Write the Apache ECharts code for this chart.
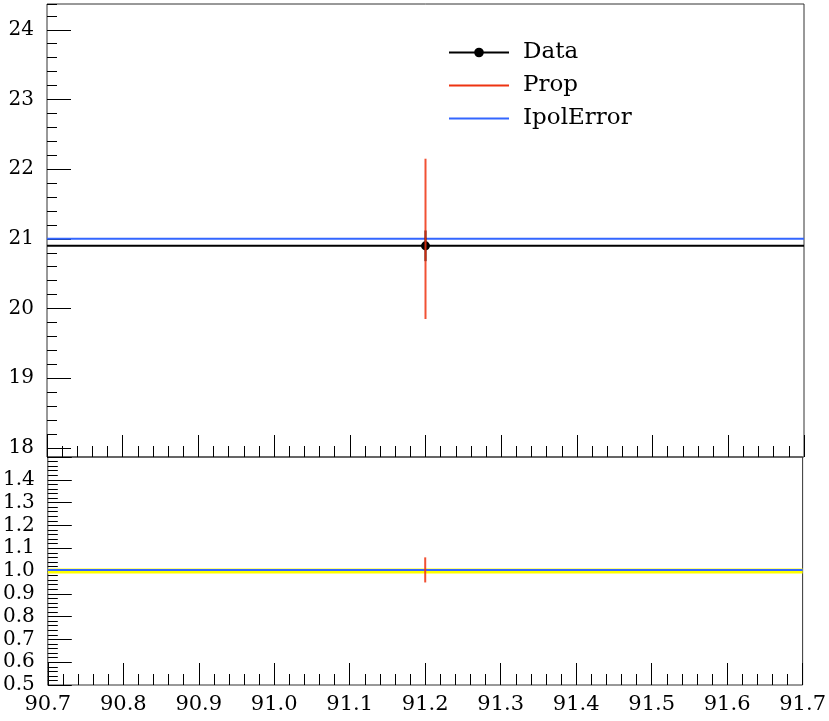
<!DOCTYPE html>
<html><head><meta charset="utf-8">
<script src="https://cdn.jsdelivr.net/npm/echarts@6/dist/echarts.min.js"></script>
<style>html,body{margin:0;padding:0;background:#fff}#c{width:829px;height:721px}</style>
</head><body><div id="c"></div>
<script>
// ---- data ----
const binEdges = [90.7, 91.7];
const binCenters = [91.2];
const dataValues = [20.9];
const dataErrors = [0.22];
const propValues = [21.0];
const propErrors = [1.15];
const ipolValues = [21.0];
const seriesNames = ['Data', 'Prop', 'IpolError'];
const xRange = [90.7, 91.7];
const yRangeTop = [17.87, 24.37];
const yRangeRatio = [0.5, 1.5];

const FONT = 'DejaVu Serif';
const RED = '#EE3311', BLUE = '#3366FF', YELLOW = '#FFFF00';

const i = 0;
const x0 = binEdges[0], x1 = binEdges[1], xc = binCenters[i];
const dv = dataValues[i], de = dataErrors[i];
const pv = propValues[i], pe = propErrors[i];
const iv = ipolValues[i];

const chart = echarts.init(document.getElementById('c'), null, {renderer: 'canvas'});

const xAxisCommon = {
  type: 'value', min: xRange[0], max: xRange[1], interval: 0.1,
  axisLine: {show: false},
  splitLine: {show: false},
  minorTick: {show: true, splitNumber: 5, length: 11, lineStyle: {color: '#000', width: 1}},
  axisTick: {show: true, inside: true, length: 22, lineStyle: {color: '#000', width: 1}},
};
const LINE_ICON = 'path://M0,0H60V2H0Z';

const option = {
  animation: false,
  backgroundColor: '#fff',
  textStyle: {fontFamily: FONT},
  grid: [
    {left: 47, right: 25, top: 4, height: 453, show: true, borderColor: '#333', borderWidth: 1, backgroundColor: 'transparent'},
    {left: 47, right: 25, top: 457, height: 228, show: true, borderColor: '#333', borderWidth: 1, backgroundColor: 'transparent'}
  ],
  legend: {
    orient: 'vertical', left: 443, top: 36,
    itemWidth: 60, itemHeight: 12, itemGap: 10,
    data: [
      {name: seriesNames[0]},
      {name: seriesNames[1], icon: LINE_ICON},
      {name: seriesNames[2], icon: LINE_ICON}
    ],
    textStyle: {fontFamily: FONT, fontSize: 23, color: '#000', padding: [0, 0, 0, 9]},
    selectedMode: false
  },
  xAxis: [
    Object.assign({}, xAxisCommon, {gridIndex: 0, axisLabel: {show: false}}),
    Object.assign({}, xAxisCommon, {gridIndex: 1,
      axisLabel: {show: true, margin: 9, fontFamily: FONT, fontSize: 21, color: '#000',
        formatter: v => v.toFixed(1), showMinLabel: true, showMaxLabel: true}})
  ],
  yAxis: [
    {type: 'value', gridIndex: 0, position: 'left', min: yRangeTop[0], max: yRangeTop[1], splitNumber: 6,
      axisLine: {show: false}, splitLine: {show: false},
      axisTick: {show: true, inside: true, length: 24, lineStyle: {color: '#000'}},
      minorTick: {show: false},
      axisLabel: {margin: 13, fontFamily: FONT, fontSize: 20, color: '#000',
        showMinLabel: false, showMaxLabel: false, formatter: v => String(Math.round(v))}},
    {type: 'value', gridIndex: 1, position: 'left', min: yRangeRatio[0], max: yRangeRatio[1], interval: 0.1,
      axisLine: {show: false}, splitLine: {show: false},
      axisTick: {show: true, inside: true, length: 24, lineStyle: {color: '#000'}},
      minorTick: {show: true, splitNumber: 5, length: 10, lineStyle: {color: '#000'}},
      axisLabel: {margin: 13, fontFamily: FONT, fontSize: 20, color: '#000',
        showMinLabel: true, showMaxLabel: false, formatter: v => v.toFixed(1)}},
    // minor ticks of the main panel (0.2 steps)
    {type: 'value', gridIndex: 0, position: 'left', offset: 0, min: yRangeTop[0], max: yRangeTop[1], splitNumber: 32,
      axisLine: {show: false}, splitLine: {show: false},
      axisTick: {show: true, inside: true, length: 10, lineStyle: {color: '#000'}},
      axisLabel: {show: false}}
  ],
  series: [
    // ---------- main panel ----------
    {name: 'IpolError', type: 'line', xAxisIndex: 0, yAxisIndex: 0, symbol: 'none',
      lineStyle: {color: BLUE, width: 2}, itemStyle: {color: BLUE}, z: 3,
      data: [[x0, iv], [x1, iv]]},
    {name: 'Data', type: 'line', xAxisIndex: 0, yAxisIndex: 0, symbol: 'circle', symbolSize: 9,
      lineStyle: {color: '#000', width: 2}, itemStyle: {color: '#000'}, z: 4,
      data: [{value: [x0, dv], symbol: 'none'}, {value: [xc, dv]}, {value: [x1, dv], symbol: 'none'}]},
    {name: 'DataErr', type: 'line', xAxisIndex: 0, yAxisIndex: 0, symbol: 'none',
      lineStyle: {color: '#000', width: 2}, z: 4,
      data: [[xc, dv - de], [xc, dv + de]]},
    {name: 'Prop', type: 'line', xAxisIndex: 0, yAxisIndex: 0, symbol: 'none',
      lineStyle: {color: RED, width: 2, opacity: 0.85}, itemStyle: {color: RED}, z: 5,
      data: [[xc, pv - pe], [xc, pv + pe]]},
    // ---------- ratio panel ----------
    {name: 'DataBand', type: 'custom', xAxisIndex: 1, yAxisIndex: 1, z: 2,
      data: [[x0, x1, 1 - de / dv, 1 + de / dv]],
      renderItem: function (params, api) {
        const a = api.coord([api.value(0), api.value(3)]);
        const b = api.coord([api.value(1), api.value(2)]);
        return {type: 'rect', shape: {x: a[0], y: a[1], width: b[0] - a[0], height: b[1] - a[1]},
          style: {fill: YELLOW}};
      }},
    {name: 'IpolRatio', type: 'line', xAxisIndex: 1, yAxisIndex: 1, symbol: 'none',
      lineStyle: {color: BLUE, width: 2}, z: 3,
      data: [[x0, iv / dv], [x1, iv / dv]]},
    {name: 'PropRatio', type: 'line', xAxisIndex: 1, yAxisIndex: 1, symbol: 'none',
      lineStyle: {color: RED, width: 2, opacity: 0.85}, z: 5,
      data: [[xc, (pv - pe) / dv], [xc, (pv + pe) / dv]]}
  ]
};
chart.setOption(option);
</script>
</body></html>
